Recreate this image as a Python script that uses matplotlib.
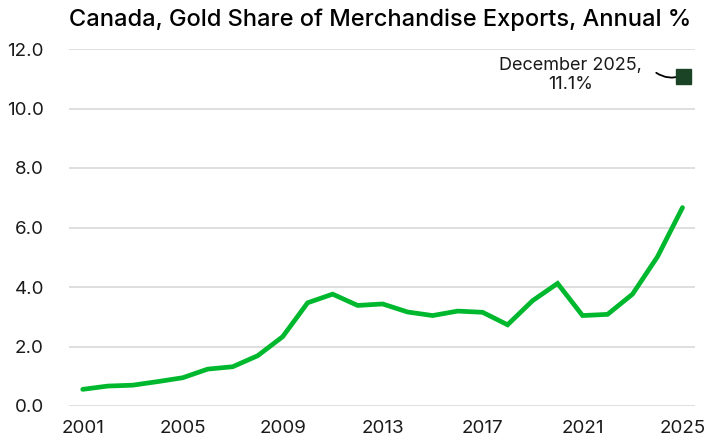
import matplotlib
matplotlib.use("Agg")
import matplotlib.pyplot as plt

plt.rcParams['font.family'] = ['Inter', 'DejaVu Sans']

years = list(range(2001, 2026))
gold_share = [0.56, 0.67, 0.70, 0.82, 0.95, 1.24, 1.32, 1.69, 2.33, 3.47,
              3.76, 3.38, 3.43, 3.16, 3.04, 3.19, 3.15, 2.73, 3.54, 4.12,
              3.04, 3.08, 3.76, 5.02, 6.67]
latest_year = 2025
latest_value = 11.1
latest_label = "December 2025,\n11.1%"
yticks = [0, 2, 4, 6, 8, 10, 12]
xticks = [2001, 2005, 2009, 2013, 2017, 2021, 2025]
title = "Canada, Gold Share of Merchandise Exports, Annual %"

fig = plt.figure(figsize=(7.06, 4.45), dpi=100)
ax = fig.add_axes([69/706, 39/445, (695-69)/706, (406-49)/445])

ax.plot(years, gold_share, color='#00b82e', lw=3.4, solid_capstyle='round',
        solid_joinstyle='miter', clip_on=False, zorder=3)
ax.plot([latest_year], [latest_value], marker='s', ms=10.8, color='#1b4426',
        lw=0, clip_on=False, zorder=4)

ax.text(2020.53, 11.13, latest_label, ha='center', va='center', fontsize=13,
        color='#1a1a1a', linespacing=1.2)
ax.annotate('', xy=(2024.97, 11.1), xytext=(2023.95, 11.2),
            arrowprops=dict(arrowstyle='-', color='#000000', lw=1.3,
                            connectionstyle='arc3,rad=0.25', shrinkA=0, shrinkB=0))

ax.set_xlim(2000.45, 2025.5)
ax.set_ylim(0, 12)
ax.set_yticks(yticks)
ax.set_yticklabels([f"{v:.1f}" for v in yticks])
ax.set_xticks(xticks)
ax.set_xticklabels([str(x) for x in xticks])
ax.grid(axis='y', color='#dcdcdc', lw=1.3)
ax.set_axisbelow(True)
for s in ax.spines.values():
    s.set_visible(False)
ax.tick_params(axis='both', length=0, labelsize=13.5, colors='#1a1a1a')
ax.tick_params(axis='y', pad=18)
ax.tick_params(axis='x', pad=10)

fig.text(380/706, 1 - 20/445, title, ha='center', va='center', fontsize=17,
         fontweight='medium', color='#000000')

fig.savefig('out.png', dpi=100)
